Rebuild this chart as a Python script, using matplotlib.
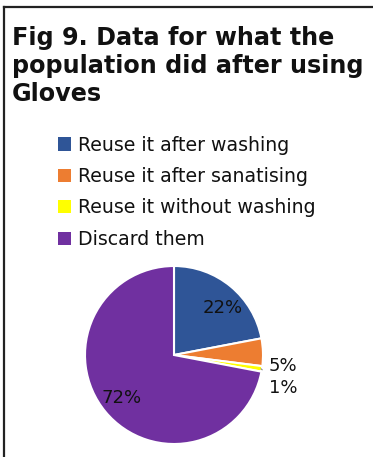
import numpy as np
import matplotlib.pyplot as plt
from matplotlib.lines import Line2D
from matplotlib.patches import Patch

# glove usage after first use (percent of respondents)
categories = ['Reuse it after washing', 'Reuse it after sanatising',
              'Reuse it without washing', 'Discard them']
shares = [22, 5, 1, 72]
colors = ['#2F5597', '#ED7D31', '#FFFF00', '#7030A0']

W, H = 373, 457
fig = plt.figure(figsize=(W / 100, H / 100), dpi=100)
fig.patch.set_facecolor('white')

# frame lines on top and left
fig.add_artist(Line2D([4 / W, 1], [1 - 7 / H, 1 - 7 / H], color='#222222', lw=1.6))
fig.add_artist(Line2D([4 / W, 4 / W], [0, 1 - 7 / H], color='#222222', lw=1.6))

fig.text(12 / W, 1 - 26 / H, 'Fig 9. Data for what the\npopulation did after using\nGloves',
         fontsize=17.2, fontweight='bold', color='#111111', ha='left', va='top',
         linespacing=1.2, family='DejaVu Sans')

# legend
handles = [Patch(facecolor=c, edgecolor='none') for c in colors]
fig.legend(handles, categories, loc='upper left', bbox_to_anchor=(50 / W, 1 - 128 / H),
           frameon=False, fontsize=13.6, handlelength=0.7, handleheight=0.7,
           handletextpad=0.4, labelspacing=0.66, borderaxespad=0, labelcolor='#111111')

# pie
cx, cy, r = 174, 355, 89
ax = fig.add_axes([(cx - r) / W, (H - cy - r) / H, 2 * r / W, 2 * r / H])
wedges, _ = ax.pie(shares, colors=colors, startangle=90, counterclock=False,
                   wedgeprops=dict(edgecolor='white', linewidth=1.5))
ax.set_xlim(-1, 1)
ax.set_ylim(-1, 1)
ax.set_aspect('auto')
ax.axis('off')

def mid_angle(w):
    return np.deg2rad((w.theta1 + w.theta2) / 2)

lab_kw = dict(fontsize=13, color='#111111', ha='center', va='center')
# big slices: labels inside
for i, rr, da in [(0, 0.76, -6), (3, 0.76, 0)]:
    a = mid_angle(wedges[i]) + np.deg2rad(da)
    ax.text(rr * np.cos(a), rr * np.sin(a), f'{shares[i]}%', **lab_kw)

# small slices: labels outside
a = mid_angle(wedges[1])
ax.text(1.22 * np.cos(a), 1.22 * np.sin(a) - 0.16, f'{shares[1]}%', **lab_kw)
a = mid_angle(wedges[2])
ax.annotate(f'{shares[2]}%', xy=(0.99 * np.cos(a), 0.99 * np.sin(a)),
            xytext=(1.23, -0.37), annotation_clip=False,
            arrowprops=dict(arrowstyle='-', color='#888888', lw=0.8,
                            shrinkA=7, shrinkB=0), **lab_kw)

fig.savefig('out.png', dpi=100, facecolor='white')
